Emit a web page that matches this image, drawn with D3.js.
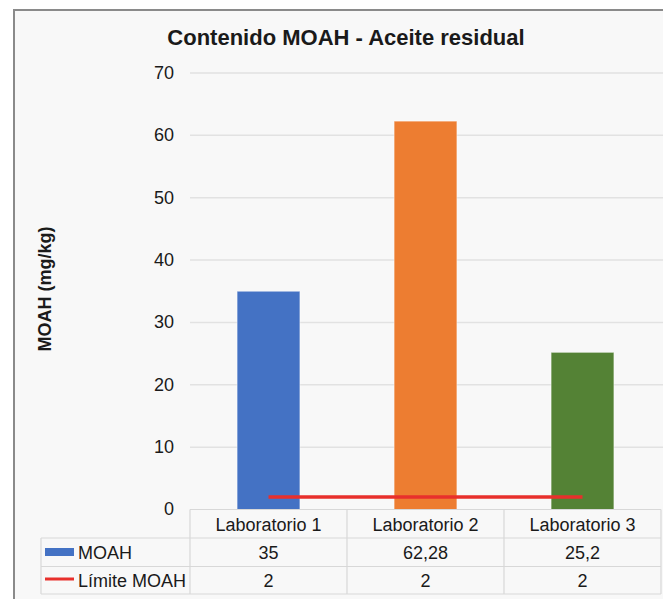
<!DOCTYPE html>
<html>
<head>
<meta charset="utf-8">
<script src="https://cdn.jsdelivr.net/npm/d3@7"></script>
<style>
  body { margin: 0; background: #fff; }
  text { font-family: "Liberation Sans", Arial, sans-serif; fill: #1a1a1a; }
</style>
</head>
<body>
<div id="chart"></div>
<script>
// data
var labs = ["Laboratorio 1", "Laboratorio 2", "Laboratorio 3"];
var moah = [35, 62.28, 25.2];
var limite = [2, 2, 2];
var moahLabels = ["35", "62,28", "25,2"];
var limiteLabels = ["2", "2", "2"];
var barColors = ["#4472C4", "#ED7D31", "#548235"];
var yTicks = [0, 10, 20, 30, 40, 50, 60, 70];

var svgWidth = 663;
var svgHeight = 599;

var plot = {left: 190, right: 661, top: 73, bottom: 509.5};

var svg = d3.select("#chart")
    .append("svg")
    .attr("width", svgWidth)
    .attr("height", svgHeight);

// chart frame
svg.append("rect")
    .attr("x", 14).attr("y", 10)
    .attr("width", svgWidth).attr("height", svgHeight)
    .attr("fill", "#f8f8f8")
    .attr("stroke", "#8a8a8a")
    .attr("stroke-width", 2);

svg.append("text")
    .attr("x", 346)
    .attr("y", 45)
    .attr("text-anchor", "middle")
    .style("font-size", "22px")
    .style("font-weight", "bold")
    .text("Contenido MOAH - Aceite residual");

var xScale = d3.scaleBand()
    .domain(labs)
    .range([plot.left, plot.right]);

var yScale = d3.scaleLinear()
    .domain([0, 70])
    .range([plot.bottom, plot.top]);

// gridlines
svg.append("g").selectAll("line")
    .data(yTicks.filter(d => d > 0))
    .enter().append("line")
    .attr("x1", plot.left).attr("x2", plot.right + 2)
    .attr("y1", d => yScale(d)).attr("y2", d => yScale(d))
    .attr("stroke", "#e2e2e2")
    .attr("stroke-width", 1.5);

// y axis labels
var yAxis = svg.append("g")
    .attr("transform", "translate(174,0)")
    .call(d3.axisLeft(yScale).tickValues(yTicks).tickSize(0).tickPadding(0));
yAxis.select(".domain").remove();
yAxis.selectAll("text")
    .style("font-size", "18px")
    .style("font-family", "'Liberation Sans', Arial, sans-serif")
    .attr("fill", "#1a1a1a")
    .attr("dy", "0.3em");

svg.append("text")
    .attr("transform", "translate(51,289) rotate(-90)")
    .attr("text-anchor", "middle")
    .style("font-size", "18px")
    .style("font-weight", "bold")
    .text("MOAH (mg/kg)");

// bars
var bw = xScale.bandwidth();
svg.append("g").selectAll("rect")
    .data(moah)
    .enter().append("rect")
    .attr("x", (d, i) => xScale(labs[i]) + bw * 0.3)
    .attr("width", bw * 0.4)
    .attr("y", d => yScale(d))
    .attr("height", d => yScale(0) - yScale(d))
    .attr("fill", (d, i) => barColors[i])
    .attr("stroke", "rgba(255,255,255,0.45)")
    .attr("stroke-width", 1);

// limit line
var line = d3.line()
    .x((d, i) => xScale(labs[i]) + bw / 2)
    .y(d => yScale(d));

svg.append("path")
    .datum(limite)
    .attr("d", line)
    .attr("fill", "none")
    .attr("stroke", "#E8302C")
    .attr("stroke-width", 3.5);

// data table
var rowY = [509.5, 538, 566.5, 594];
var tableLeft = 41;
var grid = svg.append("g")
    .attr("stroke", "#d8d8d8")
    .attr("stroke-width", 1.2);

grid.append("line").attr("x1", plot.left).attr("x2", plot.right).attr("y1", rowY[0]).attr("y2", rowY[0]);
[1, 2, 3].forEach(function(r) {
  grid.append("line").attr("x1", tableLeft).attr("x2", plot.right).attr("y1", rowY[r]).attr("y2", rowY[r]);
});
grid.append("line").attr("x1", tableLeft).attr("x2", tableLeft).attr("y1", rowY[1]).attr("y2", rowY[3]);
labs.forEach(function(l) {
  grid.append("line").attr("x1", xScale(l)).attr("x2", xScale(l)).attr("y1", rowY[0]).attr("y2", rowY[3]);
});
grid.append("line").attr("x1", plot.right).attr("x2", plot.right).attr("y1", rowY[0]).attr("y2", rowY[3]);

var rows = [labs, moahLabels, limiteLabels];
rows.forEach(function(vals, r) {
  svg.append("g").selectAll("text")
    .data(vals)
    .enter().append("text")
    .attr("x", (d, i) => xScale(labs[i]) + bw / 2)
    .attr("y", (rowY[r] + rowY[r + 1]) / 2 + 7)
    .attr("text-anchor", "middle")
    .style("font-size", "18px")
    .text(d => d);
});

// legend keys in the table
svg.append("rect")
    .attr("x", 45).attr("y", 548)
    .attr("width", 29).attr("height", 8)
    .attr("fill", barColors[0]);
svg.append("text")
    .attr("x", 78).attr("y", (rowY[1] + rowY[2]) / 2 + 7)
    .style("font-size", "18px")
    .text("MOAH");

svg.append("line")
    .attr("x1", 45).attr("x2", 74)
    .attr("y1", 579).attr("y2", 579)
    .attr("stroke", "#E8302C")
    .attr("stroke-width", 3);
svg.append("text")
    .attr("x", 78).attr("y", (rowY[2] + rowY[3]) / 2 + 7)
    .style("font-size", "18px")
    .text("Límite MOAH");
</script>
</body>
</html>
